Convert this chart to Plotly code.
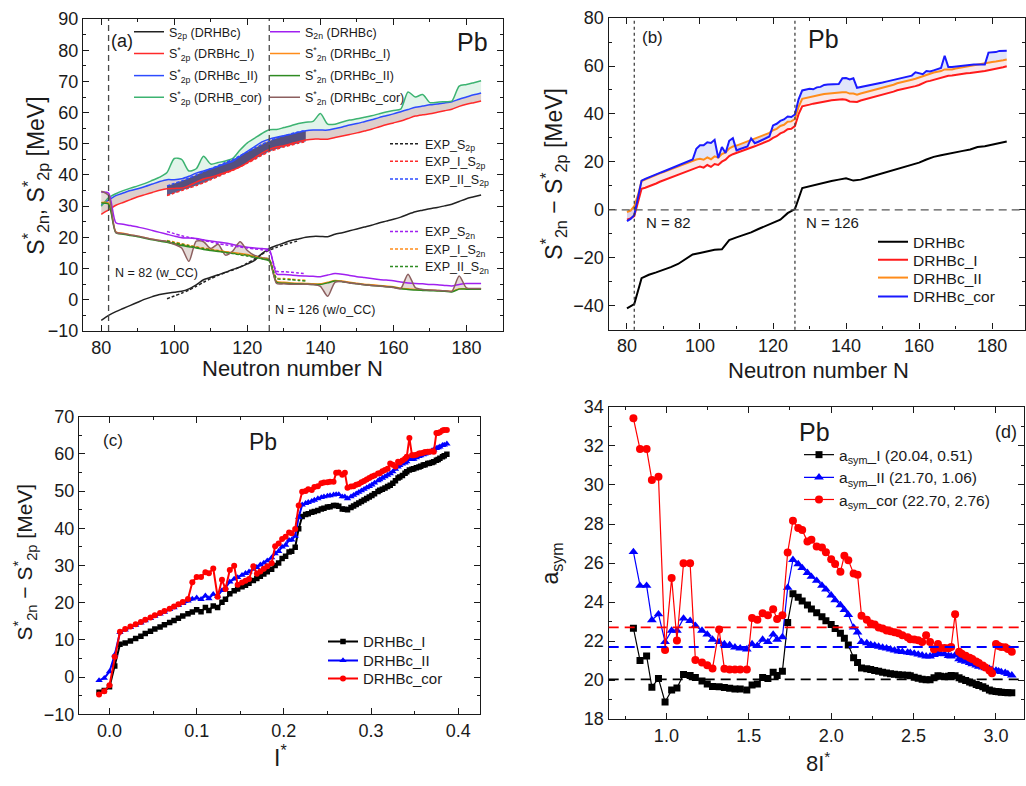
import plotly.graph_objects as go

W, H = 1026, 786
FONT = "Liberation Sans, Arial, Helvetica, sans-serif"
INK = "#1a1a1a"

# ------------------------------------------------------------------ data
# even-even Pb isotopes, N = 80 ... 184
N_even = list(range(80, 185, 2))
# every isotope, N = 80 ... 184
N_all = list(range(80, 185))
# experimentally known range
N_exp = list(range(98, 137, 2))
N_exp_s2p = list(range(98, 135, 2))
SHELL_N = [82, 126]

S2p_DRHBc = [-6.6, -5.0, -3.8, -2.8, -1.8, -0.8, 0.2, 1.0, 1.7, 2.1,
             2.4, 2.7, 3.5, 4.8, 6.4, 7.2, 8.0, 8.8, 9.7, 10.5,
             11.5, 12.6, 14.8, 16.4, 17.4, 18.2, 19.0, 19.5, 20.0, 20.3,
             20.3, 20.2, 21.0, 21.5, 22.1, 22.7, 23.3, 23.9, 24.6, 25.2,
             25.8, 26.5, 27.4, 28.2, 28.7, 29.2, 29.6, 30.1, 30.6, 31.5,
             32.4, 33.0, 33.6]
S2p_I = [27.4, 28.8, 30.3, 31.2, 32.1, 33.0, 33.7, 34.4, 35.1, 35.6,
         35.7, 35.8, 36.6, 37.7, 38.7, 39.3, 40.0, 40.8, 41.6, 42.6,
         44.0, 45.5, 47.0, 48.2, 49.0, 49.4, 50.0, 50.7, 51.2, 51.5,
         51.5, 51.5, 52.0, 52.5, 53.0, 53.5, 54.1, 54.7, 55.4, 56.1,
         56.7, 57.3, 58.1, 58.9, 59.3, 59.6, 60.1, 60.6, 61.1, 62.0,
         62.7, 63.2, 63.7]
S2p_II = [30.4, 32.0, 33.4, 34.2, 35.0, 35.6, 36.3, 37.1, 37.9, 38.5,
          38.5, 38.8, 39.6, 40.6, 41.3, 42.0, 42.8, 43.6, 44.4, 46.0,
          47.6, 49.1, 50.6, 51.5, 52.1, 52.6, 53.1, 53.7, 54.2, 54.4,
          54.4, 54.4, 54.9, 55.4, 56.0, 56.5, 57.1, 57.7, 58.4, 59.0,
          59.6, 60.3, 61.0, 61.7, 62.1, 62.5, 62.8, 63.1, 63.5, 64.3,
          65.0, 65.7, 66.3]
S2p_cor = [30.0, 32.7, 34.0, 35.0, 35.8, 36.5, 37.3, 38.3, 39.3, 40.8,
           45.3, 45.0, 41.3, 42.0, 46.0, 43.5, 44.0, 44.5, 45.3, 48.0,
           50.3, 51.8, 53.3, 54.5, 54.6, 55.2, 55.8, 56.5, 56.9, 57.2,
           59.7, 56.3, 56.3, 57.0, 57.6, 58.0, 58.5, 59.0, 59.6, 60.2,
           60.7, 61.1, 66.6, 65.0, 65.8, 63.2, 63.3, 63.5, 63.7, 68.5,
           69.0, 69.6, 70.2]
S2n_DRHBc = [34.5, 34.2, 24.7, 24.2, 23.8, 23.3, 22.8, 22.2, 21.6, 21.0,
             20.4, 19.9, 19.8, 19.6, 19.2, 18.8, 18.5, 18.2, 17.7, 17.2,
             16.8, 16.6, 16.4, 16.1, 8.3, 8.1, 7.9, 7.7, 7.6, 7.5,
             7.4, 7.9, 8.4, 8.2, 7.8, 7.4, 7.1, 6.8, 6.5, 6.3,
             6.1, 5.7, 5.4, 5.2, 5.1, 4.9, 4.8, 4.6, 4.4, 4.9,
             5.2, 5.2, 5.2]
S2n_I = [31.2, 31.0, 21.8, 21.3, 20.8, 20.4, 19.9, 19.4, 19.0, 18.6,
         18.1, 17.6, 17.2, 16.8, 16.3, 16.0, 15.7, 15.4, 15.1, 14.8,
         14.5, 13.9, 13.3, 12.7, 5.9, 5.6, 5.4, 5.3, 5.2, 5.1,
         5.1, 5.6, 6.2, 6.0, 5.6, 5.3, 5.0, 4.8, 4.6, 4.4,
         4.2, 3.7, 3.5, 3.3, 3.2, 3.1, 3.0, 2.9, 2.7, 3.5,
         3.5, 3.5, 3.5]
S2n_II = [31.0, 30.6, 21.5, 21.0, 20.6, 20.2, 19.7, 19.2, 18.8, 18.4,
          17.9, 17.4, 17.0, 16.6, 16.1, 15.8, 15.5, 15.2, 14.9, 14.6,
          14.3, 13.7, 13.1, 12.4, 5.6, 5.3, 5.2, 5.1, 5.0, 4.9,
          4.9, 5.4, 6.0, 5.8, 5.4, 5.1, 4.8, 4.6, 4.4, 4.2,
          4.0, 3.5, 3.3, 3.1, 3.0, 2.9, 2.8, 2.7, 2.5, 3.4,
          3.4, 3.4, 3.4]
S2n_cor = [34.8, 33.5, 21.6, 21.2, 20.8, 20.4, 19.9, 19.4, 19.0, 18.7,
           17.8, 16.6, 12.3, 18.8, 18.6, 16.4, 17.8, 14.3, 15.6, 18.6,
           15.8, 14.2, 13.5, 13.0, 5.2, 5.1, 5.0, 5.0, 5.0, 4.9,
           4.3, 1.1, 5.6, 5.8, 5.4, 5.1, 4.8, 4.6, 4.4, 4.2,
           3.9, 3.6, 8.2, 3.9, 3.3, 3.1, 3.0, 2.9, 2.7, 7.6,
           3.8, 3.6, 3.6]

EXP_S2p = [0.3, 1.2, 2.1, 3.1, 4.3, 5.6, 6.8, 7.8, 8.7, 9.5,
           10.5, 11.7, 13.1, 14.6, 15.9, 16.8, 17.6, 18.3, 18.9]
EXP_I_S2p = [33.4, 34.2, 35.0, 35.8, 36.6, 37.5, 38.5, 39.5, 40.5, 41.5,
             42.6, 43.8, 45.0, 46.3, 47.5, 48.3, 49.0, 49.6, 50.2, 50.7]
EXP_II_S2p = [36.5, 37.3, 38.1, 39.0, 40.0, 41.0, 42.0, 43.0, 44.0, 45.0,
              46.2, 47.4, 48.6, 49.8, 50.9, 51.8, 52.5, 53.2, 53.8, 54.3]
EXP_S2n = [21.9, 21.2, 20.5, 20.0, 19.5, 19.0, 18.5, 18.0, 17.6, 17.2,
           16.9, 16.6, 16.3, 16.0, 15.5, 9.2, 9.0, 8.8, 8.6, 8.3]
EXP_I_S2n = [19.0, 18.5, 18.0, 17.5, 17.0, 16.6, 16.2, 15.8, 15.4, 15.0,
             14.6, 14.2, 13.8, 13.4, 12.9, 7.0, 6.8, 6.6, 6.4, 6.2]
EXP_II_S2n = [18.8, 18.3, 17.8, 17.3, 16.8, 16.4, 16.0, 15.6, 15.2, 14.8,
              14.4, 14.0, 13.6, 13.2, 12.7, 6.8, 6.6, 6.4, 6.2, 6.0]

# S2n* - S2p* differences
dS_DRHBc = [-41.1, -39.3, -28.5, -27.1, -26.1, -25.1, -23.9, -22.6, -20.6, -18.6,
            -18.0, -17.2, -16.7, -16.5, -12.6, -11.5, -10.5, -9.4, -8.0, -6.7,
            -5.4, -4.1, -1.4, 0.3, 9.1, 9.9, 10.6, 11.3, 12.0, 12.6,
            13.2, 12.2, 12.6, 13.5, 14.4, 15.3, 16.2, 17.1, 18.0, 18.8,
            19.7, 21.0, 22.1, 22.8, 23.5, 24.0, 24.6, 25.2, 26.2, 26.5,
            27.1, 27.8, 28.5]
dS_I = [-4.1, -3.6, -2.6, 3.0, 8.8, 9.2, 9.7, 10.4, 11.0, 11.7,
        12.3, 12.9, 13.5, 14.1, 14.7, 15.2, 15.8, 16.4, 17.0, 17.5,
        18.1, 17.6, 18.7, 17.9, 19.1, 18.7, 20.1, 20.9, 22.4, 23.2,
        23.7, 24.3, 24.7, 25.2, 26.0, 26.5, 27.1, 27.7, 28.3, 29.0,
        30.0, 30.7, 31.9, 32.5, 33.6, 33.8, 34.9, 39.9, 43.2, 43.7,
        43.9, 44.3, 44.5, 44.8, 45.2, 45.4, 45.7, 45.8, 46.1, 46.1,
        45.9, 45.2, 45.1, 45.0, 45.6, 46.0, 46.4, 46.8, 47.2, 47.6,
        48.0, 48.4, 48.8, 49.3, 49.9, 50.2, 50.5, 50.8, 51.2, 51.6,
        52.1, 52.8, 53.5, 53.8, 54.2, 54.8, 55.2, 55.7, 55.9, 56.0,
        56.3, 56.5, 56.7, 57.0, 57.1, 57.4, 57.5, 57.7, 57.9, 58.3,
        58.5, 58.8, 59.2, 59.5, 59.9]
dS_II = [-0.9, -0.3, 1.5, 6.0, 12.0, 12.7, 13.4, 14.0, 14.6, 15.2,
         15.8, 16.4, 17.0, 17.5, 18.2, 18.7, 19.3, 19.8, 20.5, 21.0,
         21.3, 20.9, 21.9, 21.1, 22.3, 21.8, 23.3, 24.0, 25.6, 26.4,
         26.8, 27.4, 27.9, 28.3, 29.0, 29.5, 30.2, 30.7, 31.3, 32.1,
         33.2, 33.8, 35.0, 35.5, 36.8, 36.9, 37.9, 43.0, 46.3, 46.7,
         47.0, 47.3, 47.6, 48.0, 48.3, 48.5, 48.7, 48.8, 49.0, 49.1,
         49.1, 48.5, 48.5, 48.0, 48.5, 48.9, 49.3, 49.7, 50.1, 50.5,
         50.9, 51.3, 51.7, 52.2, 52.8, 53.1, 53.5, 53.9, 54.3, 54.7,
         55.2, 55.9, 56.5, 56.9, 57.3, 57.6, 57.9, 58.6, 58.5, 58.6,
         59.0, 59.3, 59.5, 59.8, 60.0, 60.3, 60.5, 60.9, 61.1, 61.5,
         61.7, 61.9, 62.3, 62.4, 62.7]
dS_cor = [-4.7, -3.8, -2.2, 5.5, 12.2, 12.9, 13.6, 14.2, 14.8, 15.4,
          16.0, 16.6, 17.2, 17.8, 18.4, 19.0, 19.6, 20.2, 21.0, 25.5,
          26.9, 26.9, 28.2, 27.9, 29.2, 21.6, 26.2, 23.7, 28.8, 29.9,
          24.8, 25.4, 25.9, 26.4, 29.8, 27.8, 28.4, 29.1, 29.8, 30.6,
          35.2, 35.9, 37.1, 37.7, 38.9, 38.7, 39.8, 46.1, 49.8, 50.0,
          50.5, 50.3, 51.1, 51.3, 52.1, 52.3, 52.4, 52.5, 52.5, 54.9,
          55.0, 54.4, 54.9, 50.9, 51.2, 51.3, 51.7, 51.9, 52.4, 52.7,
          53.1, 53.5, 53.9, 54.2, 54.7, 54.8, 55.3, 55.7, 56.0, 57.4,
          57.1, 56.6, 57.9, 57.7, 58.2, 58.7, 59.2, 64.3, 59.6, 59.6,
          59.8, 60.1, 60.2, 60.3, 60.5, 60.6, 60.6, 60.7, 60.6, 65.6,
          65.6, 65.8, 66.3, 66.4, 66.4]

# isospin asymmetry I* of each isotope
I_star = [-0.012, -0.006, 0.000, 0.006, 0.012, 0.018, 0.024, 0.030, 0.036, 0.041,
          0.047, 0.052, 0.058, 0.063, 0.069, 0.074, 0.079, 0.084, 0.090, 0.095,
          0.100, 0.105, 0.110, 0.114, 0.119, 0.124, 0.129, 0.133, 0.138, 0.143,
          0.147, 0.152, 0.156, 0.160, 0.165, 0.169, 0.173, 0.177, 0.181, 0.186,
          0.190, 0.194, 0.198, 0.202, 0.206, 0.209, 0.213, 0.217, 0.221, 0.225,
          0.228, 0.232, 0.235, 0.239, 0.243, 0.246, 0.250, 0.253, 0.257, 0.260,
          0.263, 0.267, 0.270, 0.273, 0.277, 0.280, 0.283, 0.286, 0.289, 0.292,
          0.295, 0.298, 0.301, 0.304, 0.308, 0.310, 0.313, 0.316, 0.319, 0.322,
          0.325, 0.328, 0.331, 0.333, 0.336, 0.339, 0.341, 0.344, 0.347, 0.349,
          0.352, 0.355, 0.357, 0.360, 0.362, 0.365, 0.367, 0.370, 0.372, 0.375,
          0.377, 0.379, 0.382, 0.384, 0.387]

# symmetry-energy coefficient for N = 100 ... 184
ASYM_FIRST = 20  # index of N = 100 in N_all
asym_I = [22.66, 21.01, 21.24, 19.64, 20.08, 18.88, 19.49, 19.60, 20.29, 20.24,
          20.13, 19.96, 19.80, 19.68, 19.66, 19.63, 19.58, 19.55, 19.55, 19.50,
          19.75, 19.80, 20.13, 20.08, 20.41, 20.24, 20.46, 22.96, 24.43, 24.25,
          24.05, 23.85, 23.65, 23.45, 23.25, 23.05, 22.85, 22.65, 22.40, 22.15,
          21.80, 21.15, 20.90, 20.62, 20.58, 20.55, 20.50, 20.45, 20.40, 20.37,
          20.33, 20.30, 20.28, 20.27, 20.25, 20.22, 20.15, 20.10, 20.05, 20.02,
          20.02, 20.12, 20.22, 20.20, 20.17, 20.20, 20.24, 20.22, 20.12, 20.05,
          19.98, 19.90, 19.85, 19.78, 19.72, 19.66, 19.58, 19.50, 19.45, 19.42,
          19.40, 19.38, 19.37, 19.36, 19.35]
asym_II = [26.57, 24.84, 24.84, 23.08, 23.38, 21.96, 22.54, 22.54, 23.16, 23.04,
           22.79, 22.54, 22.34, 22.08, 21.96, 21.85, 21.80, 21.68, 21.63, 21.58,
           21.85, 21.76, 22.08, 21.96, 22.34, 22.08, 22.21, 24.74, 26.17, 25.95,
           25.75, 25.50, 25.30, 25.10, 24.85, 24.65, 24.35, 24.10, 23.85, 23.60,
           23.35, 22.70, 22.45, 21.96, 21.90, 21.82, 21.78, 21.72, 21.67, 21.63,
           21.58, 21.53, 21.48, 21.45, 21.42, 21.40, 21.37, 21.32, 21.27, 21.22,
           21.22, 21.30, 21.35, 21.35, 21.33, 21.25, 21.22, 21.28, 21.08, 21.00,
           20.95, 20.88, 20.82, 20.76, 20.70, 20.66, 20.62, 20.58, 20.53, 20.50,
           20.46, 20.42, 20.38, 20.32, 20.25]
asym_cor = [33.42, 31.84, 31.84, 30.25, 30.42, 21.55, 25.24, 22.03, 25.99, 25.99,
            21.03, 20.91, 20.76, 20.60, 22.60, 20.58, 20.55, 20.55, 20.55, 20.55,
            23.18, 23.10, 23.43, 23.33, 23.63, 23.13, 23.33, 26.54, 28.17, 27.80,
            27.70, 27.10, 27.20, 26.85, 26.80, 26.55, 26.20, 25.95, 25.55, 26.38,
            26.15, 25.46, 25.40, 23.30, 23.10, 22.90, 22.85, 22.70, 22.65, 22.55,
            22.50, 22.45, 22.40, 22.30, 22.20, 22.10, 22.08, 22.05, 21.96, 22.30,
            21.95, 21.58, 21.85, 21.65, 21.65, 21.63, 21.70, 23.38, 21.45, 21.35,
            21.25, 21.15, 21.08, 20.95, 20.88, 20.75, 20.65, 20.50, 20.35, 21.85,
            21.75, 21.70, 21.68, 21.60, 21.45]
asym_labels = ["I", "II", "cor"]
asym_mean = [20.04, 21.70, 22.70]
asym_std = [0.51, 1.06, 2.76]

# ------------------------------------------------------------------ figure
fig = go.Figure()
legends = {}


def new_legend(x_px, y_px, size):
    """One legend box per entry so that every row sits where it should."""
    k = len(legends) + 1
    key = "legend" if k == 1 else f"legend{k}"
    legends[key] = dict(
        x=(x_px - 5) / W, y=1 - y_px / H, xanchor="left", yanchor="middle",
        bgcolor="rgba(0,0,0,0)", borderwidth=0, tracegroupgap=0,
        font=dict(family=FONT, size=size, color=INK),
    )
    return key


def band(x, y, xa, ya, shape, fillcolor=None):
    """Invisible edge of a shaded band (filled to the previous edge)."""
    fig.add_trace(go.Scatter(
        x=x, y=y, xaxis=xa, yaxis=ya, mode="lines",
        line=dict(width=0, shape=shape, smoothing=0.7 if shape == "spline" else None),
        fill="tonexty" if fillcolor else None, fillcolor=fillcolor,
        showlegend=False, hoverinfo="skip"))


def curve(x, y, xa, ya, name, color, leg, width=1.5, dash=None, shape="spline", **kw):
    fig.add_trace(go.Scatter(
        x=x, y=y, xaxis=xa, yaxis=ya, mode=kw.pop("mode", "lines"), name=name,
        line=dict(color=color, width=width, dash=dash, shape=shape,
                  smoothing=0.7 if shape == "spline" else None),
        legend=leg, **kw))


# ---------------- panel (a)
band(N_even, S2p_I, "x", "y", "spline")
band(N_even, S2p_II, "x", "y", "spline", "rgba(150,105,95,0.32)")
band(N_even, S2p_cor, "x", "y", "spline", "rgba(60,179,113,0.15)")
band(N_exp, EXP_I_S2p, "x", "y", "spline")
band(N_exp, EXP_II_S2p, "x", "y", "spline", "rgba(30,30,95,0.72)")
band(N_even, S2n_II, "x", "y", "spline")
band(N_even, S2n_cor, "x", "y", "spline", "rgba(150,110,100,0.25)")

col1_x, col2_x = 134, 270
rows_a = [22.7, 45.0, 67.7, 90.0]
sA = 12.5
curve(N_even, S2p_DRHBc, "x", "y", "S<sub>2p</sub> (DRHBc)", "#222222", new_legend(col1_x, rows_a[0], sA))
curve(N_even, S2p_I, "x", "y", "S<sup>*</sup><sub>2p</sub> (DRBHc_I)", "#ff2a2a", new_legend(col1_x, rows_a[1], sA))
curve(N_even, S2p_II, "x", "y", "S<sup>*</sup><sub>2p</sub> (DRHBc_II)", "#2d4bff", new_legend(col1_x, rows_a[2], sA))
curve(N_even, S2p_cor, "x", "y", "S<sup>*</sup><sub>2p</sub> (DRHB_cor)", "#3cb371", new_legend(col1_x, rows_a[3], sA))
curve(N_even, S2n_DRHBc, "x", "y", "S<sub>2n</sub> (DRHBc)", "#a020f0", new_legend(col2_x, rows_a[0], sA))
curve(N_even, S2n_I, "x", "y", "S<sup>*</sup><sub>2n</sub> (DRHBc_I)", "#ff8c1a", new_legend(col2_x, rows_a[1], sA))
curve(N_even, S2n_II, "x", "y", "S<sup>*</sup><sub>2n</sub> (DRHBc_II)", "#2e8b22", new_legend(col2_x, rows_a[2], sA))
curve(N_even, S2n_cor, "x", "y", "S<sup>*</sup><sub>2n</sub> (DRHBc_cor)", "#8c5f5f", new_legend(col2_x, rows_a[3], sA))

exp_x = 390
sE = 12.5
EXP_DASH = "3px,2px"
curve(N_exp_s2p, EXP_S2p, "x", "y", "EXP_S<sub>2p</sub>", "#222222", new_legend(exp_x, 137.7, sE), dash=EXP_DASH)
curve(N_exp, EXP_I_S2p, "x", "y", "EXP_I_S<sub>2p</sub>", "#ff2a2a", new_legend(exp_x, 155.7, sE), dash=EXP_DASH)
curve(N_exp, EXP_II_S2p, "x", "y", "EXP_II_S<sub>2p</sub>", "#2d4bff", new_legend(exp_x, 173.7, sE), dash=EXP_DASH)
curve(N_exp, EXP_S2n, "x", "y", "EXP_S<sub>2n</sub>", "#a020f0", new_legend(exp_x, 227.7, sE), dash=EXP_DASH)
curve(N_exp, EXP_I_S2n, "x", "y", "EXP_I_S<sub>2n</sub>", "#ff8c1a", new_legend(exp_x, 245.7, sE), dash=EXP_DASH)
curve(N_exp, EXP_II_S2n, "x", "y", "EXP_II_S<sub>2n</sub>", "#2e8b22", new_legend(exp_x, 263.7, sE), dash=EXP_DASH)

# ---------------- panel (b)
band(N_all, dS_I, "x2", "y2", "linear")
band(N_all, dS_II, "x2", "y2", "linear", "rgba(230,110,110,0.16)")
band(N_all, dS_cor, "x2", "y2", "linear", "rgba(90,110,230,0.18)")
rows_b = [238.3, 256.7, 275.0, 294.3]
sB = 15.5
curve(N_even, dS_DRHBc, "x2", "y2", "DRHBc", "#000000", new_legend(878, rows_b[0], sB), width=2, shape="linear")
curve(N_all, dS_I, "x2", "y2", "DRHBc_I", "#ff1a1a", new_legend(878, rows_b[1], sB), width=2, shape="linear")
curve(N_all, dS_II, "x2", "y2", "DRHBc_II", "#ff8c1a", new_legend(878, rows_b[2], sB), width=2, shape="linear")
curve(N_all, dS_cor, "x2", "y2", "DRHBc_cor", "#1a1aff", new_legend(878, rows_b[3], sB), width=2, shape="linear")

# ---------------- panel (c)
rows_c = [648.3, 667.7, 686.3]
sC = 15
curve(I_star, dS_I, "x3", "y3", "DRHBc_I", "#000000", new_legend(328, rows_c[0], sC), width=2, shape="linear",
      mode="lines+markers", marker=dict(symbol="square", size=5.5, color="#000000"))
curve(I_star, dS_II, "x3", "y3", "DRHBc_II", "#0000ff", new_legend(328, rows_c[1], sC), width=2, shape="linear",
      mode="lines+markers", marker=dict(symbol="triangle-up", size=6.5, color="#0000ff"))
curve(I_star, dS_cor, "x3", "y3", "DRHBc_cor", "#ff0000", new_legend(328, rows_c[2], sC), width=2, shape="linear",
      mode="lines+markers", marker=dict(symbol="circle", size=6, color="#ff0000"))

# ---------------- panel (d)
x8 = [8 * v for v in I_star[ASYM_FIRST:]]
rows_d = [456.7, 480.0, 502.7]
sD = 15.5
asym_series = [asym_I, asym_II, asym_cor]
asym_colors = ["#000000", "#0000ff", "#ff0000"]
asym_symbols = [("square", 7), ("triangle-up", 8.5), ("circle", 8)]
for lab, ys, col, (sym, msz), mu, sd, ry in zip(asym_labels, asym_series, asym_colors,
                                                asym_symbols, asym_mean, asym_std, rows_d):
    curve(x8, ys, "x4", "y4", f"a<sub>sym</sub>_{lab} ({mu:.2f}, {sd:.2f})", col,
          new_legend(804, ry, sD), width=1.2, shape="linear",
          mode="lines+markers", marker=dict(symbol=sym, size=msz, color=col))

# ------------------------------------------------------------------ axes
def px_dom_x(x0, x1):
    return [x0 / W, x1 / W]


def px_dom_y(top, bottom):
    return [1 - bottom / H, 1 - top / H]


def axis(rng, dtick, minor, domain, anchor, fmt=None, tick0=0):
    return dict(
        range=rng, domain=domain, anchor=anchor, dtick=dtick, tick0=tick0,
        tickformat=fmt, ticks="inside", ticklen=6, tickwidth=1.3, tickcolor=INK,
        showline=True, linecolor=INK, linewidth=1.4, mirror="ticks",
        showgrid=False, zeroline=False,
        tickfont=dict(family=FONT, size=18, color=INK),
        minor=dict(dtick=minor, ticks="inside", ticklen=3, tickwidth=1.1,
                   tickcolor=INK, showgrid=False),
    )


dom_a = (px_dom_x(83, 503), px_dom_y(9.3, 329.3))
dom_b = (px_dom_x(608.7, 1025), px_dom_y(8.3, 328))
dom_c = (px_dom_x(79, 480), px_dom_y(417.3, 722.7))
dom_d = (px_dom_x(608.7, 1024), px_dom_y(407.3, 727.7))

layout = dict(
    width=W, height=H, margin=dict(l=0, r=0, t=0, b=0),
    paper_bgcolor="white", plot_bgcolor="white",
    font=dict(family=FONT, color=INK), showlegend=True,
    xaxis=axis([75, 190], 20, 10, dom_a[0], "y"),
    yaxis=axis([-10, 90], 10, 5, dom_a[1], "x"),
    xaxis2=axis([75, 189], 20, 10, dom_b[0], "y2"),
    yaxis2=axis([-50, 80], 20, 10, dom_b[1], "x2"),
    xaxis3=axis([-0.035, 0.425], 0.1, 0.05, dom_c[0], "y3", fmt=".1f"),
    yaxis3=axis([-10, 70], 10, 5, dom_c[1], "x3"),
    xaxis4=axis([0.65, 3.17], 0.5, 0.25, dom_d[0], "y4", fmt=".1f"),
    yaxis4=axis([18, 34], 2, 1, dom_d[1], "x4"),
)
layout.update(legends)

# ------------------------------------------------------------------ reference lines
shapes = []
for n in SHELL_N:
    shapes.append(dict(type="line", xref="x", yref="y domain", x0=n, x1=n, y0=0, y1=1,
                       line=dict(color="#4a4a4a", width=1.3, dash="6px,4px")))
    shapes.append(dict(type="line", xref="x2", yref="y2 domain", x0=n, x1=n, y0=0, y1=1,
                       line=dict(color="#333333", width=1.2, dash="3px,3px")))
shapes.append(dict(type="line", xref="x2 domain", yref="y2", x0=0, x1=1, y0=0, y1=0,
                   line=dict(color="#555555", width=1.3, dash="8px,5px")))
for mu, col in zip(asym_mean, asym_colors):
    shapes.append(dict(type="line", xref="x4 domain", yref="y4", x0=0, x1=1, y0=mu, y1=mu,
                       line=dict(color=col, width=1.8, dash="10px,6px")))
layout["shapes"] = shapes


# ------------------------------------------------------------------ text
def label(text, x_px, y_px, size, angle=0):
    return dict(text=text, x=x_px / W, y=1 - y_px / H, xref="paper", yref="paper",
                showarrow=False, xanchor="center", yanchor="middle", textangle=angle,
                font=dict(family=FONT, size=size, color=INK))


ytitle_diff = "S<sup>*</sup><sub>2n</sub> \u2212 S<sup>*</sup><sub>2p</sub> [MeV]"
layout["annotations"] = [
    # axis titles
    label("Neutron number N", 292, 368, 22),
    label("S<sup>*</sup><sub>2n</sub>, S<sup>*</sup><sub>2p</sub> [MeV]", 35, 170, 23, -90),
    label("Neutron number N", 818, 370, 22),
    label(ytitle_diff, 553, 168, 23, -90),
    label("I<sup>*</sup>", 280, 765, 23),
    label(ytitle_diff, 25, 567, 21, -90),
    label("8I<sup>*</sup>", 818, 772, 22),
    label("a<sub>sym</sub>", 552, 568, 23, -90),
    # panel tags and notes
    label("(a)", 122, 32, 18), label("Pb", 472, 33, 25),
    label("N = 82 (w_CC)", 156, 270, 12.5), label("N = 126 (w/o_CC)", 325, 308, 12.5),
    label("(b)", 652, 28, 17), label("Pb", 823, 30, 25),
    label("N = 82", 668, 218, 15), label("N = 126", 832, 218, 15),
    label("(c)", 113, 442, 17), label("Pb", 263, 443, 23),
    label("Pb", 814, 433, 25), label("(d)", 1006, 433, 18),
]

fig.update_layout(**layout)
fig.write_html("out.html")
